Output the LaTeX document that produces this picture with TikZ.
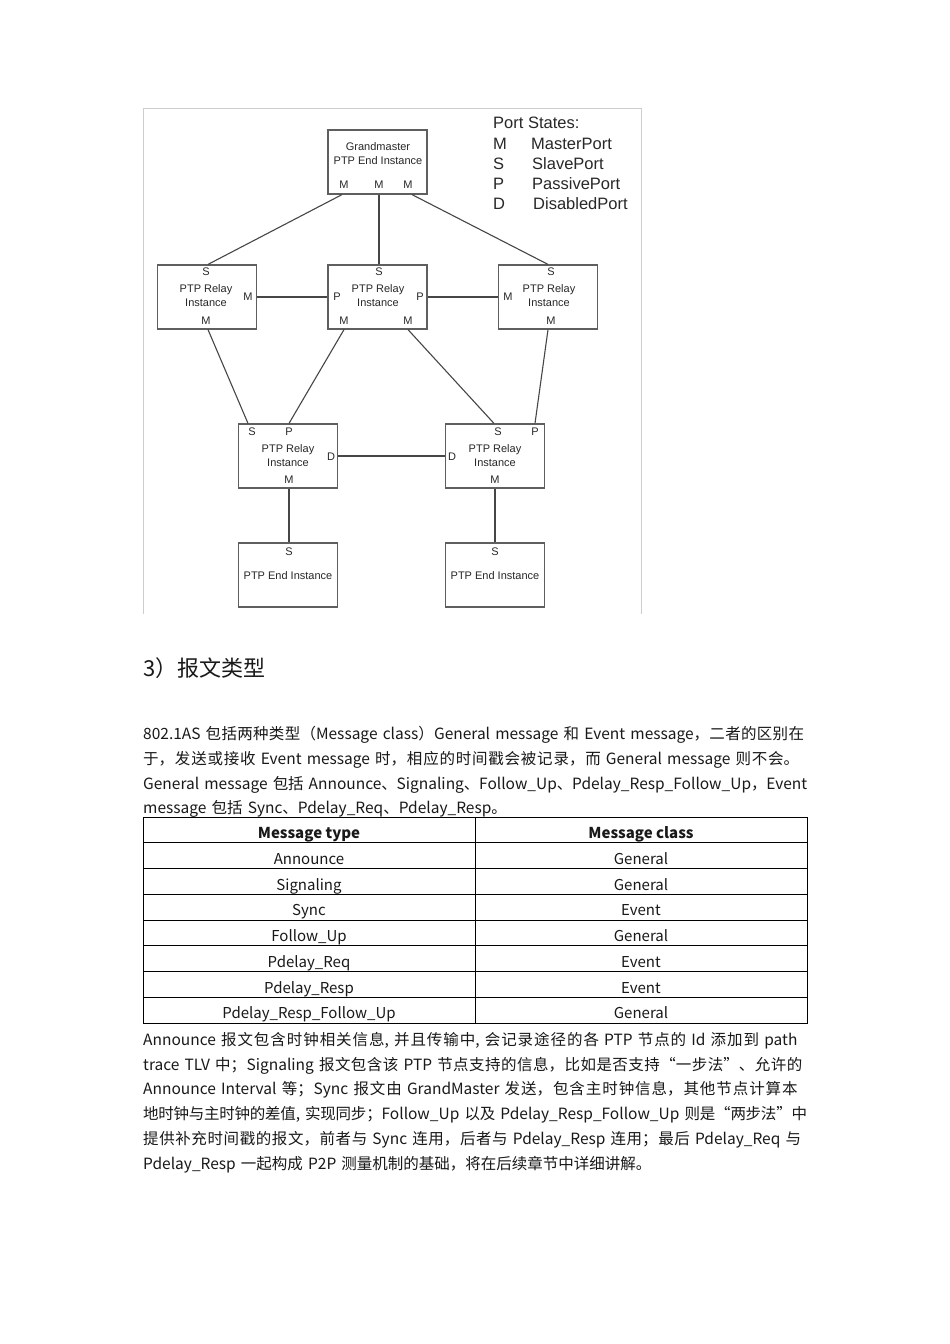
\documentclass[tikz,border=0pt]{standalone}
\usepackage{fontspec}
\setmainfont{Liberation Sans}
\newfontfamily\cjk{Noto Sans CJK SC}
\definecolor{boxgray}{RGB}{95,95,95}
\definecolor{linegray}{RGB}{70,70,70}
\definecolor{txtgray}{RGB}{40,40,40}
\definecolor{framegray}{RGB}{205,205,205}
\definecolor{bodytext}{RGB}{25,25,25}
\newcommand\jline[1]{\XeTeXlinebreaklocale "zh"\XeTeXlinebreakskip=0pt plus 3pt minus 0.5pt\relax\hyphenpenalty=10000\relax\parfillskip=0pt\relax #1\par}
\newcommand\rline[1]{\XeTeXlinebreaklocale "zh"\XeTeXlinebreakskip=0pt plus 0.5pt\relax\hyphenpenalty=10000\relax #1\par}
\tikzset{
  pbox/.style={draw=boxgray, line width=1.2pt, minimum width=99pt, minimum height=64pt, inner sep=0pt},
  port/.style={font=\fontsize{11}{13}\selectfont, text=txtgray, inner sep=0pt},
  btxt/.style={font=\fontsize{11}{14}\selectfont, align=center, text=txtgray, inner sep=0pt},
  link/.style={draw=linegray, line width=1.1pt},
  leg/.style={font=\fontsize{16.5}{18}\selectfont, anchor=base west, inner sep=0pt, text=txtgray},
  pline/.style={anchor=base west, inner sep=0pt, text width=664pt, font=\cjk\fontsize{15.5}{20}\selectfont, text=bodytext},
  cell/.style={anchor=base, inner sep=0pt, font=\cjk\fontsize{15}{18}\selectfont, text=bodytext},
  tbl/.style={draw=black, line width=0.9pt},
}
\begin{document}
\begin{tikzpicture}[x=1pt,y=-1pt]
\useasboundingbox (0,0) rectangle (950,1344);
\fill[white] (0,0) rectangle (950,1344);
% figure frame
\draw[framegray, line width=1pt] (143,614) -- (143,108) -- (641,108) -- (641,614);
% boxes
\node[pbox] (gm) at (377.5,162) {};
\node[pbox] (l) at (207,297) {};
\node[pbox] (m) at (377.5,297) {};
\node[pbox] (r) at (548,297) {};
\node[pbox] (bl) at (288,456) {};
\node[pbox] (br) at (495,456) {};
\node[pbox] (el) at (288,575) {};
\node[pbox] (er) at (495,575) {};
% box texts
\node[btxt] (gmt) at (378,154) {Grandmaster\\PTP End Instance};
\node[btxt] (lt) at (206,296) {PTP Relay\\Instance};
\node[btxt] (mt) at (378,296) {PTP Relay\\Instance};
\node[btxt] (rt) at (549,296) {PTP Relay\\Instance};
\node[btxt] (blt) at (288,456) {PTP Relay\\Instance};
\node[btxt] (brt) at (495,456) {PTP Relay\\Instance};
\node[btxt] (elt) at (288,576) {PTP End Instance};
\node[btxt] (ert) at (495,576) {PTP End Instance};
% ports
\node[port] (gmMa) at (344,185) {M};
\node[port] (gmMb) at (379,185) {M};
\node[port] (gmMc) at (408,185) {M};
\node[port] (lS) at (206,272) {S};
\node[port] (lM) at (248,297) {M};
\node[port] (lMb) at (206,321) {M};
\node[port] (mS) at (379,272) {S};
\node[port] (mPl) at (337,297) {P};
\node[port] (mPr) at (420,297) {P};
\node[port] (mMa) at (344,321) {M};
\node[port] (mMb) at (408,321) {M};
\node[port] (rS) at (551,272) {S};
\node[port] (rMl) at (508,297) {M};
\node[port] (rMb) at (551,321) {M};
\node[port] (blS) at (252,432) {S};
\node[port] (blP) at (289,432) {P};
\node[port] (blD) at (331,457) {D};
\node[port] (blM) at (289,480) {M};
\node[port] (brS) at (498,432) {S};
\node[port] (brP) at (535,432) {P};
\node[port] (brD) at (452,457) {D};
\node[port] (brM) at (495,480) {M};
\node[port] (elS) at (289,552) {S};
\node[port] (erS) at (495,552) {S};
% links
\draw[link] ([xshift=-2pt]gmMa.center |- gm.south) -- ([xshift=2pt]lS.center |- l.north);
\draw[link] (gmMb.center |- gm.south) -- (mS.center |- m.north);
\draw[link] ([xshift=4pt]gmMc.center |- gm.south) -- ([xshift=-3pt]rS.center |- r.north);
\draw[link, line width=2pt] (l.east) -- (m.west);
\draw[link] (m.east) -- (r.west);
\draw[link] ([xshift=2pt]lMb.center |- l.south) -- ([xshift=-4pt]blS.center |- bl.north);
\draw[link] (mMa.center |- m.south) -- (blP.center |- bl.north);
\draw[link] (mMb.center |- m.south) -- ([xshift=-4pt]brS.center |- br.north);
\draw[link] ([xshift=-3pt]rMb.center |- r.south) -- (brP.center |- br.north);
\draw[link] (bl.east) -- (br.west);
\draw[link] (blM.center |- bl.south) -- (elS.center |- el.north);
\draw[link] (brM.center |- br.south) -- (erS.center |- er.north);
% legend
\node[leg] (lgt) at (493,128) {Port States:};
\node[leg] (lg1) at (493,149) {M};
\node[leg] (lg1t) at (531,149) {MasterPort};
\node[leg] (lg2) at (493,169) {S};
\node[leg] (lg2t) at (532,169) {SlavePort};
\node[leg] (lg3) at (493,189) {P};
\node[leg] (lg3t) at (532,189) {PassivePort};
\node[leg] (lg4) at (493,209) {D};
\node[leg] (lg4t) at (533,209) {DisabledPort};
% heading
\node[anchor=base west, inner sep=0pt, font=\cjk\fontsize{22}{26}\selectfont, text=bodytext] (head) at (143,676) {3）报文类型};
% paragraph 1
\node[pline] (p1a) at (143,739) {\jline{802.1AS 包括两种类型（Message class）General message 和 Event message，二者的区别在}};
\node[pline] (p1b) at (143,764) {\jline{于，发送或接收 Event message 时，相应的时间戳会被记录，而 General message 则不会。}};
\node[pline] (p1c) at (143,789) {\jline{General message 包括 Announce、Signaling、Follow\_Up、Pdelay\_Resp\_Follow\_Up，Event}};
\node[pline] (p1d) at (143,813) {\rline{message 包括 Sync、Pdelay\_Req、Pdelay\_Resp。}};
% table
\draw[tbl] (143,817) rectangle (807,1023);
\foreach \k in {1,...,7} {\draw[tbl] (143,817+25.75*\k) -- (807,817+25.75*\k);}
\draw[tbl] (475,817) -- (475,1023);
\node[cell, font=\cjk\bfseries\fontsize{15}{18}\selectfont] (th1) at (309,838.5) {Message type};
\node[cell, font=\cjk\bfseries\fontsize{15}{18}\selectfont] (th2) at (641,838.5) {Message class};
\foreach \i/\a/\b in {1/Announce/General, 2/Signaling/General, 3/Sync/Event, 4/Follow\_Up/General, 5/Pdelay\_Req/Event, 6/Pdelay\_Resp/Event, 7/Pdelay\_Resp\_Follow\_Up/General} {
  \node[cell] (ta\i) at (309,838.5+25.75*\i) {\a};
  \node[cell] (tb\i) at (641,838.5+25.75*\i) {\b};
}
% paragraph 2
\node[pline] (p2a) at (143,1045) {\jline{Announce 报文包含时钟相关信息, 并且传输中, 会记录途径的各 PTP 节点的 Id 添加到 path}};
\node[pline] (p2b) at (143,1070) {\jline{trace TLV 中；Signaling 报文包含该 PTP 节点支持的信息，比如是否支持“一步法”、允许的}};
\node[pline] (p2c) at (143,1094.5) {\jline{Announce Interval 等；Sync 报文由 GrandMaster 发送，包含主时钟信息，其他节点计算本}};
\node[pline] (p2d) at (143,1119) {\jline{地时钟与主时钟的差值, 实现同步；Follow\_Up 以及 Pdelay\_Resp\_Follow\_Up 则是“两步法”中}};
\node[pline] (p2e) at (143,1144) {\jline{提供补充时间戳的报文，前者与 Sync 连用，后者与 Pdelay\_Resp 连用；最后 Pdelay\_Req 与}};
\node[pline] (p2f) at (143,1169) {\rline{Pdelay\_Resp 一起构成 P2P 测量机制的基础，将在后续章节中详细讲解。}};
\end{tikzpicture}
\end{document}
